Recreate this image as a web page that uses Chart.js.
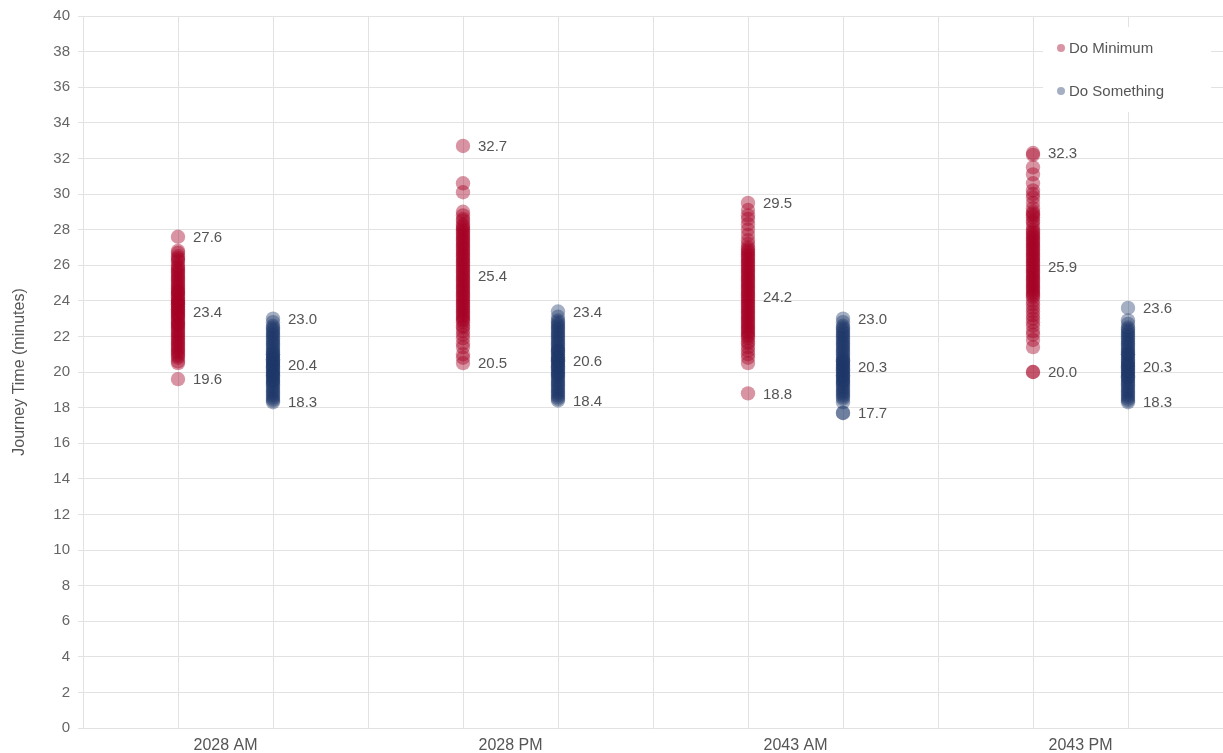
<!DOCTYPE html>
<html>
<head>
<meta charset="utf-8">
<script src="https://cdn.jsdelivr.net/npm/chart.js@4"></script>
<style>
html,body{margin:0;padding:0;background:#fff;}
#wrap{width:1223px;height:753px;position:relative;}
</style>
</head>
<body>
<div id="wrap"><canvas id="c" width="1223" height="753"></canvas></div>
<script>
const categories = ["2028 AM", "2028 PM", "2043 AM", "2043 PM"];
const seriesNames = ["Do Minimum", "Do Something"];

// Do Minimum journey times (minutes), one list per category
const dm2028AM = [27.6, 26.8, 26.7, 26.5, 26.4, 26.3, 26.2, 26.0, 25.9, 25.8, 25.7, 25.6, 25.5, 25.4, 25.3, 25.2, 25.1, 25.0, 24.9, 24.8, 24.7, 24.6, 24.5, 24.5, 24.4, 24.3, 24.2, 24.1, 24.0, 24.0, 23.9, 23.8, 23.8, 23.7, 23.6, 23.5, 23.5, 23.4, 23.3, 23.2, 23.2, 23.1, 23.0, 22.9, 22.8, 22.7, 22.7, 22.6, 22.5, 22.4, 22.3, 22.2, 22.1, 22.0, 21.9, 21.8, 21.7, 21.6, 21.5, 21.4, 21.3, 21.2, 21.1, 21.0, 20.9, 20.8, 20.6, 20.5, 19.6];
const dm2028PM = [32.7, 30.6, 30.1, 29.0, 28.8, 28.6, 28.5, 28.3, 28.2, 28.1, 28.0, 27.9, 27.8, 27.7, 27.6, 27.5, 27.4, 27.3, 27.2, 27.1, 27.0, 26.9, 26.8, 26.7, 26.6, 26.5, 26.4, 26.3, 26.2, 26.1, 26.0, 25.9, 25.8, 25.7, 25.6, 25.5, 25.4, 25.3, 25.2, 25.1, 25.0, 24.9, 24.8, 24.7, 24.6, 24.5, 24.4, 24.3, 24.2, 24.1, 24.0, 23.9, 23.8, 23.7, 23.6, 23.5, 23.4, 23.3, 23.2, 23.1, 23.0, 22.9, 22.8, 22.6, 22.5, 22.3, 22.1, 21.9, 21.6, 21.4, 21.0, 20.8, 20.5];
const dm2043AM = [29.5, 29.1, 28.8, 28.6, 28.3, 28.0, 27.7, 27.4, 27.2, 27.0, 26.9, 26.8, 26.7, 26.6, 26.5, 26.4, 26.3, 26.2, 26.1, 26.0, 25.9, 25.8, 25.7, 25.6, 25.5, 25.4, 25.3, 25.2, 25.1, 25.0, 24.9, 24.8, 24.7, 24.6, 24.5, 24.4, 24.3, 24.2, 24.1, 24.0, 23.9, 23.8, 23.7, 23.6, 23.5, 23.4, 23.3, 23.2, 23.1, 23.0, 22.9, 22.8, 22.7, 22.6, 22.5, 22.4, 22.3, 22.2, 22.1, 22.0, 21.9, 21.7, 21.6, 21.4, 21.2, 21.0, 20.8, 20.5, 18.8];
const dm2043PM = [32.3, 32.2, 31.5, 31.1, 30.6, 30.2, 30.0, 29.8, 29.5, 29.2, 29.0, 28.9, 28.8, 28.7, 28.5, 28.4, 28.2, 28.0, 27.9, 27.8, 27.7, 27.6, 27.5, 27.4, 27.3, 27.2, 27.1, 27.0, 26.9, 26.8, 26.7, 26.6, 26.5, 26.4, 26.3, 26.2, 26.1, 26.0, 25.9, 25.8, 25.7, 25.6, 25.5, 25.4, 25.3, 25.2, 25.1, 25.0, 24.9, 24.8, 24.7, 24.6, 24.5, 24.4, 24.3, 24.2, 24.0, 23.8, 23.6, 23.4, 23.2, 23.0, 22.8, 22.6, 22.3, 22.1, 21.8, 21.4, 20.0, 20.0];

// Do Something journey times (minutes)
const ds2028AM = [23.0, 22.8, 22.6, 22.5, 22.4, 22.3, 22.2, 22.1, 22.0, 21.9, 21.8, 21.7, 21.6, 21.5, 21.4, 21.3, 21.2, 21.1, 21.0, 21.0, 20.9, 20.8, 20.7, 20.7, 20.6, 20.5, 20.5, 20.4, 20.3, 20.3, 20.2, 20.1, 20.0, 20.0, 19.9, 19.8, 19.8, 19.7, 19.6, 19.5, 19.5, 19.4, 19.3, 19.2, 19.1, 19.0, 18.9, 18.8, 18.7, 18.6, 18.5, 18.4, 18.3];
const ds2028PM = [23.4, 23.1, 22.9, 22.8, 22.7, 22.6, 22.5, 22.4, 22.3, 22.2, 22.1, 22.0, 21.9, 21.8, 21.7, 21.6, 21.5, 21.4, 21.3, 21.2, 21.2, 21.1, 21.0, 20.9, 20.8, 20.8, 20.7, 20.6, 20.6, 20.5, 20.4, 20.3, 20.3, 20.2, 20.1, 20.0, 19.9, 19.9, 19.8, 19.7, 19.6, 19.5, 19.4, 19.3, 19.2, 19.1, 19.0, 18.9, 18.8, 18.7, 18.6, 18.5, 18.4];
const ds2043AM = [23.0, 22.8, 22.6, 22.5, 22.4, 22.3, 22.2, 22.1, 22.0, 21.9, 21.8, 21.7, 21.6, 21.5, 21.4, 21.3, 21.2, 21.1, 21.0, 20.9, 20.8, 20.7, 20.6, 20.6, 20.5, 20.4, 20.4, 20.3, 20.2, 20.1, 20.1, 20.0, 19.9, 19.8, 19.8, 19.7, 19.6, 19.5, 19.5, 19.4, 19.3, 19.2, 19.1, 19.0, 18.9, 18.8, 18.7, 18.6, 18.5, 18.3, 17.7, 17.7];
const ds2043PM = [23.6, 22.9, 22.7, 22.5, 22.4, 22.3, 22.2, 22.1, 22.0, 21.9, 21.8, 21.7, 21.6, 21.5, 21.4, 21.3, 21.2, 21.1, 21.0, 21.0, 20.9, 20.8, 20.7, 20.6, 20.5, 20.5, 20.4, 20.3, 20.3, 20.2, 20.1, 20.0, 20.0, 19.9, 19.8, 19.7, 19.7, 19.6, 19.5, 19.4, 19.3, 19.2, 19.1, 19.0, 18.9, 18.8, 18.7, 18.6, 18.5, 18.4, 18.3];

// Annotated summary values (max, mean, min)
const dmMax  = [27.6, 32.7, 29.5, 32.3];
const dmMean = [23.4, 25.4, 24.2, 25.9];
const dmMin  = [19.6, 20.5, 18.8, 20.0];
const dsMax  = [23.0, 23.4, 23.0, 23.6];
const dsMean = [20.4, 20.6, 20.3, 20.3];
const dsMin  = [18.3, 18.4, 17.7, 18.3];

const yTicks = [0, 2, 4, 6, 8, 10, 12, 14, 16, 18, 20, 22, 24, 26, 28, 30, 32, 34, 36, 38, 40];

const dmLists = [dm2028AM, dm2028PM, dm2043AM, dm2043PM];
const dsLists = [ds2028AM, ds2028PM, ds2043AM, ds2043PM];

// x slot for a series within a category group (3 slots per group)
function slot(catIndex, seriesIndex) { return catIndex * 3 + 1 + seriesIndex; }

function toPoints(lists, seriesIndex) {
  const pts = [];
  lists.forEach((vals, ci) => vals.forEach(v => pts.push({ x: slot(ci, seriesIndex), y: v })));
  return pts;
}

const redFill = 'rgba(165,0,36,0.42)';
const blueFill = 'rgba(30,54,104,0.4)';
const FONT = '"Liberation Sans", Arial, sans-serif';

const summaryPlugin = {
  id: 'summaryLabels',
  afterDatasetsDraw(chart) {
    const ctx = chart.ctx;
    const xs = chart.scales.x, ys = chart.scales.y;
    ctx.save();
    ctx.font = '15px ' + FONT;
    ctx.fillStyle = '#555';
    ctx.textAlign = 'left';
    ctx.textBaseline = 'middle';
    const groups = [[dmMax, dmMean, dmMin, 0], [dsMax, dsMean, dsMin, 1]];
    groups.forEach(([mx, mn, mi, s]) => {
      categories.forEach((c, ci) => {
        const px = xs.getPixelForValue(slot(ci, s)) + 15;
        [mx[ci], mn[ci], mi[ci]].forEach(v => {
          ctx.fillText(v.toFixed(1), px, ys.getPixelForValue(v) + 1);
        });
      });
    });
    ctx.restore();
  }
};

const legendPlugin = {
  id: 'insideLegend',
  afterDraw(chart) {
    const ctx = chart.ctx;
    const area = chart.chartArea;
    const boxX = area.right - 180, boxY = area.top + 11, boxW = 168, boxH = 85;
    ctx.save();
    ctx.fillStyle = '#fff';
    ctx.fillRect(boxX, boxY, boxW, boxH);
    ctx.font = '15px ' + FONT;
    ctx.textBaseline = 'middle';
    ctx.textAlign = 'left';
    chart.data.datasets.forEach((ds, i) => {
      const cy = boxY + 21 + i * 43;
      const cx = boxX + 18;
      ctx.beginPath();
      ctx.arc(cx, cy, 4, 0, Math.PI * 2);
      ctx.fillStyle = ds.backgroundColor;
      ctx.fill();
      ctx.fillStyle = '#555';
      ctx.fillText(ds.label, cx + 8, cy + 1);
    });
    ctx.restore();
  }
};

new Chart(document.getElementById('c'), {
  type: 'scatter',
  data: {
    datasets: [
      { label: seriesNames[0], data: toPoints(dmLists, 0), backgroundColor: redFill, borderWidth: 0, pointRadius: 7.2, pointHoverRadius: 7.2, clip: false },
      { label: seriesNames[1], data: toPoints(dsLists, 1), backgroundColor: blueFill, borderWidth: 0, pointRadius: 7.2, pointHoverRadius: 7.2, clip: false }
    ]
  },
  options: {
    responsive: false,
    animation: false,
    layout: { autoPadding: false, padding: { top: 16, right: 0, left: 0, bottom: 0 } },
    plugins: { legend: { display: false }, tooltip: { enabled: false } },
    scales: {
      x: {
        type: 'linear',
        min: 0,
        max: categories.length * 3,
        afterBuildTicks(scale) {
          const t = [];
          for (let i = 0; i <= categories.length * 3; i++) t.push({ value: i });
          categories.forEach((c, ci) => t.push({ value: ci * 3 + 1.5 }));
          t.sort((a, b) => a.value - b.value);
          scale.ticks = t;
        },
        afterFit(scale) { scale.height = 25; scale.paddingRight = 0; scale.paddingLeft = 0; },
        grid: {
          drawTicks: false,
          color(ctx) {
            const v = ctx.tick ? ctx.tick.value : 0;
            return Number.isInteger(v) ? '#e2e2e2' : 'rgba(0,0,0,0)';
          }
        },
        border: { color: '#e2e2e2' },
        ticks: {
          autoSkip: false,
          maxRotation: 0,
          padding: 8,
          color: '#555',
          font: { family: FONT, size: 16 },
          callback(v) {
            const ci = (v - 1.5) / 3;
            return Number.isInteger(ci) && categories[ci] !== undefined ? categories[ci] : '';
          }
        }
      },
      y: {
        min: 0,
        max: 40,
        afterBuildTicks(scale) { scale.ticks = yTicks.map(v => ({ value: v })); },
        afterFit(scale) { scale.width = 83; scale.paddingTop = 0; scale.paddingBottom = 0; },
        grid: { color: '#e2e2e2', tickLength: 5 },
        border: { color: '#e2e2e2' },
        ticks: { padding: 8, color: '#666', font: { family: FONT, size: 15 } },
        title: {
          display: true,
          text: 'Journey Time (minutes)',
          color: '#555',
          font: { family: FONT, size: 16 },
          padding: { top: 10, bottom: 0 }
        }
      }
    }
  },
  plugins: [summaryPlugin, legendPlugin]
});
</script>
</body>
</html>
